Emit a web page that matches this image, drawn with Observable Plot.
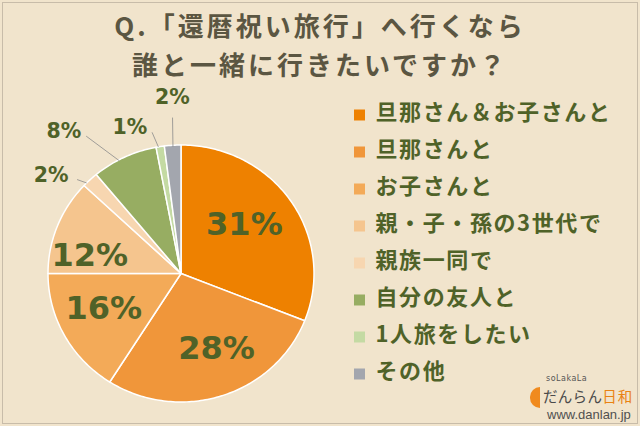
<!DOCTYPE html>
<html><head><meta charset="utf-8">
<script src="https://cdn.jsdelivr.net/npm/d3@7"></script>
<script src="https://cdn.jsdelivr.net/npm/@observablehq/plot@0.6"></script>
<style>
body{margin:0;}
#chart{position:relative;width:640px;height:426px;background:#F1E4CC;overflow:hidden;font-family:"Noto Sans CJK JP",sans-serif;}
#frame{position:absolute;left:2px;top:2px;width:634px;height:420px;border:1px solid #C8BCA9;}
.title{position:absolute;left:0;width:640px;text-align:center;font-weight:700;font-size:26px;line-height:38px;height:38px;color:#5B5642;letter-spacing:3px;white-space:nowrap;}
#t1{top:6px;}
#t2{top:45px;}
#pie{position:absolute;left:0;top:76px;}
#legend{position:absolute;left:340px;top:92px;}
.half{position:absolute;left:530px;top:387px;width:10px;height:21px;border-radius:11px 0 0 11px;background:#F08A1E;}
.sol{position:absolute;left:546px;top:375px;font:8px "DejaVu Sans",sans-serif;line-height:8px;color:#555;letter-spacing:0.5px;white-space:nowrap;}
.dan{position:absolute;left:543px;top:388px;font-size:14.5px;line-height:16px;color:#4a4a4a;letter-spacing:0.3px;white-space:nowrap;}
.dan span{color:#E98213;letter-spacing:1px;}
.url{position:absolute;left:547px;top:408px;font:13px "Liberation Sans",sans-serif;line-height:14px;color:#505050;white-space:nowrap;}
</style></head>
<body>
<div id="chart">
  <div id="frame"></div>
  <div class="title" id="t1">Q.「還暦祝い旅行」へ行くなら</div>
  <div class="title" id="t2">誰と一緒に行きたいですか？</div>
  <div id="pie"></div>
  <div id="legend"></div>
  <div class="half"></div>
  <div class="sol">soLakaLa</div>
  <div class="dan">だんらん<span>日和</span></div>
  <div class="url">www.danlan.jp</div>
</div>
<script>
const categories = ["旦那さん＆お子さんと","旦那さんと","お子さんと","親・子・孫の3世代で","親族一同で","自分の友人と","1人旅をしたい","その他"];
const values = [31, 28, 16, 12, 2, 8, 1, 2];
const colors = ["#EE8100","#F0963A","#F3AA58","#F5C58E","#F7D6B0","#97AD62","#C4DAA3","#A3A6AE"];
const labelColor = "#4F6228";

// layout
const W = 340, H = 350, cx = 180.5, cy = 197, rx = 133, ry = 128.5;
const total = d3.sum(values);
let acc = 0;
const slices = categories.map((c, i) => {
  const a0 = acc / total * 360; acc += values[i]; const a1 = acc / total * 360;
  return {cat: c, value: values[i], a0, a1, mid: (a0 + a1) / 2};
});
const rad = a => a * Math.PI / 180;
const polar = (a, r) => ({x: r * Math.sin(rad(a)), y: -r * Math.cos(rad(a))});

const pts = [];
for (const s of slices) {
  pts.push({cat: s.cat, x: 0, y: 0});
  const n = Math.max(2, Math.ceil((s.a1 - s.a0) / 1));
  for (let k = 0; k <= n; k++) {
    const p = polar(s.a0 + (s.a1 - s.a0) * k / n, 1);
    pts.push({cat: s.cat, ...p});
  }
}

// label placement (angle offset from slice middle, radius factor)
const insideLayout = {
  "旦那さん＆お子さんと": [-4.4, 0.61],
  "旦那さんと": [-6.6, 0.64],
  "お子さんと": [3.8, 0.64],
  "親・子・孫の3世代で": [-10.1, 0.70]
};
const inside = slices.filter(s => insideLayout[s.cat]).map(s => {
  const [da, r] = insideLayout[s.cat];
  return {...polar(s.mid + da, r), text: s.value + "%"};
});

// placement of small-slice labels: [angle, radius factor]
const outsideLayout = {
  "親族一同で":   {label: [308.1, 1.24], from: [313.1, 1.07], to: [314.8, 1.0]},
  "自分の友人と": {label: [321.5, 1.415], from: [326.3, 1.285], to: [332.2, 0.99]},
  "1人旅をしたい": {label: [341.3, 1.2], from: [348.8, 1.12], to: [350.2, 1.0]},
  "その他":       {label: [357.3, 1.375], from: [357, 1.215], to: [356.5, 0.99]}
};
const outside = slices.filter(s => outsideLayout[s.cat]).map(s => {
  const L = outsideLayout[s.cat];
  const l = polar(...L.label), f = polar(...L.from), t = polar(...L.to);
  return {x: l.x, y: l.y, text: s.value + "%", x1: f.x, y1: f.y, x2: t.x, y2: t.y};
});

const color = {domain: categories, range: colors};

const pie = Plot.plot({
  width: W, height: H, margin: 0,
  style: {background: "transparent", overflow: "visible"},
  x: {domain: [-cx / rx, (W - cx) / rx], range: [0, W], axis: null},
  y: {domain: [-cy / ry, (H - cy) / ry], range: [0, H], axis: null},
  color,
  marks: [
    Plot.line(pts, {x: "x", y: "y", z: "cat", fill: "cat", stroke: "white", strokeWidth: 1.5, strokeLinejoin: "round", curve: "linear-closed"}),
    Plot.link(outside, {x1: "x1", y1: "y1", x2: "x2", y2: "y2", stroke: "#8a8a8a", strokeWidth: 0.8}),
    Plot.text(inside, {x: "x", y: "y", text: "text", fill: labelColor, fontSize: 32, fontWeight: 700, fontFamily: "DejaVu Sans"}),
    Plot.text(outside, {x: "x", y: "y", text: "text", fill: labelColor, fontSize: 20.5, fontWeight: 700, fontFamily: "DejaVu Sans"})
  ]
});
document.getElementById("pie").append(pie);

const legend = Plot.plot({
  width: 300, height: 300, margin: 0,
  style: {background: "transparent", overflow: "visible", letterSpacing: "1.6px"},
  y: {type: "band", domain: categories, range: [0, 300.8], axis: null},
  color,
  marks: [
    Plot.dot(categories, {y: d => d, fill: d => d, symbol: "square", r: 6.2, frameAnchor: "left", dx: 19, dy: 2}),
    Plot.text(categories, {y: d => d, text: d => d, frameAnchor: "left", dx: 35, textAnchor: "start", fill: labelColor, fontSize: 22, fontWeight: 700, fontFamily: "Noto Sans CJK JP"})
  ]
});
document.getElementById("legend").append(legend);
</script>
</body></html>
